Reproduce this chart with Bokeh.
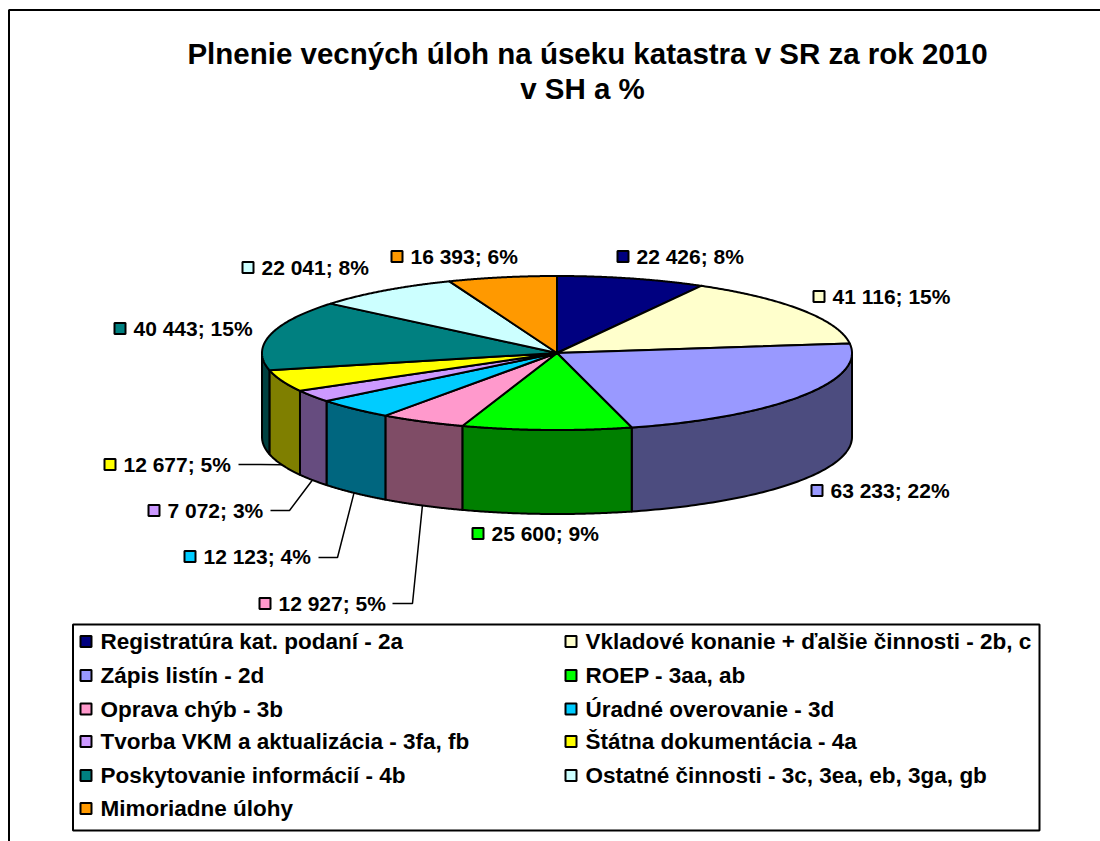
import numpy as np
from bokeh.plotting import figure
from bokeh.models import Range1d
from bokeh.core.properties import value
from bokeh.embed import file_html
from bokeh.resources import INLINE

# ---------- data ----------
title_lines = ["Plnenie vecných úloh na úseku katastra v SR za rok 2010", "v SH a %"]
categories = ["Registratúra kat. podaní - 2a", "Vkladové konanie + ďalšie činnosti - 2b, c",
              "Zápis listín - 2d", "ROEP - 3aa, ab", "Oprava chýb - 3b", "Úradné overovanie - 3d",
              "Tvorba VKM a aktualizácia - 3fa, fb", "Štátna dokumentácia - 4a",
              "Poskytovanie informácií - 4b", "Ostatné činnosti - 3c, 3ea, eb, 3ga, gb",
              "Mimoriadne úlohy"]
values = [22426, 41116, 63233, 25600, 12927, 12123, 7072, 12677, 40443, 22041, 16393]
percents = [8, 15, 22, 9, 5, 4, 3, 5, 15, 8, 6]
colors = ["#000080", "#FFFFCC", "#9999FF", "#00FF00", "#FF99CC", "#00CCFF",
          "#CC99FF", "#FFFF00", "#008080", "#CCFFFF", "#FF9900"]

# ---------- layout (page pixels) ----------
CX, CY, RX, RY, DEPTH = 556.5, 352.5, 295.0, 77.0, 84.0
label_swatch_x = [616, 812, 810, 471, 258, 183, 147, 103, 113, 241, 390]
label_y = [256, 296, 490, 533, 603, 556, 510, 464, 328, 267, 256]
leader_bend = {4: (412, 603, 392), 5: (337, 557, 318), 6: (289, 510, 270), 7: (260, 464, 238)}
FONT = value("Liberation Sans")
LABEL_SIZE = "21px"
LEGEND_SIZE = "22.5px"
TITLE_SIZE = "29.5px"
OUT = 2


def darker(c):
    r, g, b = (int(c[i:i + 2], 16) for i in (1, 3, 5))
    return "#%02x%02x%02x" % (r // 2, g // 2, b // 2)


p = figure(width=1100, height=841, x_range=Range1d(0, 1100), y_range=Range1d(841, 0),
           output_backend="svg", toolbar_location=None, min_border=0, outline_line_color=None)
p.axis.visible = False
p.grid.visible = False

# frame: only the left and top edges are inside the crop
p.line([8.5, 8.5, 1100], [841, 9.5, 9.5], line_color="black", line_width=2)

# ---------- pie ----------
vals = np.array(values, dtype=float)
fr = np.cumsum(np.concatenate([[0], vals])) / vals.sum()
ang = fr * 2 * np.pi
ex = lambda t: CX + RX * np.sin(t)
ey = lambda t: CY - RY * np.cos(t)

side_xs, side_ys, side_cols = [], [], []
for i, c in enumerate(colors):
    a, b = max(ang[i], np.pi / 2), min(ang[i + 1], 3 * np.pi / 2)
    if a < b:
        t = np.linspace(a, b, 80)
        side_xs.append(np.concatenate([ex(t), ex(t[::-1])]))
        side_ys.append(np.concatenate([ey(t), ey(t[::-1]) + DEPTH]))
        side_cols.append(darker(c))
p.patches(side_xs, side_ys, fill_color=side_cols, line_color="black", line_width=OUT, line_join="round")

top_xs, top_ys = [], []
for i in range(len(values)):
    t = np.linspace(ang[i], ang[i + 1], 120)
    top_xs.append(np.concatenate([[CX], ex(t)]))
    top_ys.append(np.concatenate([[CY], ey(t)]))
p.patches(top_xs, top_ys, fill_color=colors, line_color="black", line_width=OUT, line_join="round")

# ---------- leader lines ----------
lx, ly = [], []
for i, (bx, by, ex0) in leader_bend.items():
    m = (ang[i] + ang[i + 1]) / 2
    lx.append([ex(m), bx, ex0])
    ly.append([ey(m) + DEPTH, by, by])
p.multi_line(lx, ly, line_color="black", line_width=1.5)

# ---------- data labels ----------
label_text = ["{:,}".format(v).replace(",", " ") + "; %d%%" % q for v, q in zip(values, percents)]
p.quad(left=[x + 1 for x in label_swatch_x], right=[x + 12 for x in label_swatch_x],
       top=[y - 5.5 for y in label_y], bottom=[y + 5.5 for y in label_y],
       fill_color=colors, line_color="black", line_width=2)
p.text(x=[x + 20 for x in label_swatch_x], y=label_y, text=label_text, text_font=FONT,
       text_font_style="bold", text_font_size=LABEL_SIZE, text_baseline="middle", text_align="left",
       text_color="black")

# ---------- title ----------
p.text(x=[587, 582], y=[53, 88], text=title_lines, text_font=FONT, text_font_style="bold",
       text_font_size=TITLE_SIZE, text_baseline="middle", text_align="center", text_color="black")

# ---------- legend ----------
p.quad(left=[72.5], right=[1039], top=[624], bottom=[830], fill_color="white", line_color="black", line_width=2)
rows = [641, 675, 708.5, 741, 775, 808]
leg_x = [79 if i % 2 == 0 else 564 for i in range(len(categories))]
leg_y = [rows[i // 2] for i in range(len(categories))]
p.quad(left=[x + 1 for x in leg_x], right=[x + 12 for x in leg_x], top=[y - 5.5 for y in leg_y],
       bottom=[y + 5.5 for y in leg_y], fill_color=colors, line_color="black", line_width=2)
p.text(x=[x + 21 for x in leg_x], y=leg_y, text=categories, text_font=FONT, text_font_style="bold",
       text_font_size=LEGEND_SIZE, text_baseline="middle", text_align="left", text_color="black")

open("out.html", "w").write(file_html(p, INLINE))
